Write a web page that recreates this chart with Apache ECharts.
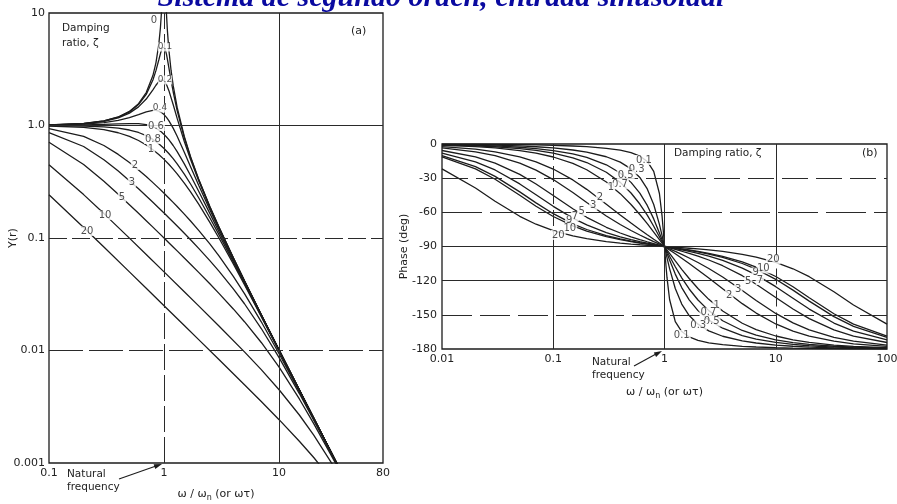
<!DOCTYPE html>
<html><head><meta charset="utf-8">
<script src="https://cdn.jsdelivr.net/npm/echarts/dist/echarts.min.js"></script>
<style>html,body{margin:0;padding:0;background:#fff}#c{width:897px;height:504px}</style>
</head><body><div id="c"></div>
<script>
// ---------- panel (a): amplitude ratio Y(r) vs w/wn ----------
const ampR_fine = [0.1,0.2,0.3,0.4,0.5,0.6,0.7,0.8,0.85,0.9,0.93,0.95,0.97,0.99,1.0,1.01,1.03,1.05,1.07,1.1,1.15,1.2,1.3,1.5,1.7,2,2.5,3,4,5,7,10,15,20,30,40];
const ampR_mid = [0.1,0.2,0.3,0.4,0.5,0.6,0.7,0.8,0.85,0.9,0.95,0.97,1.0,1.05,1.1,1.2,1.3,1.5,1.7,2,2.5,3,4,5,7,10,15,20,30,40];
const ampR_coarse = [0.1,0.2,0.3,0.4,0.5,0.6,0.7,0.8,0.9,1.0,1.1,1.2,1.3,1.5,1.7,2,2.5,3,4,5,7,10,15,20,30,40];
const ampR_sparse = [0.1,0.2,0.3,0.5,0.7,1,1.5,2,3,5,7,10,15,20,30,40];

const amp_z0 = [1.0101,1.0417,1.0989,1.1905,1.3333,1.5625,1.9608,2.7778,3.6036,5.2632,7.4019,10.256,16.92,50.25,null,49.75,16.42,9.756,6.901,4.762,3.101,2.273,1.449,0.8,0.5291,0.3333,0.1905,0.125,0.06667,0.04167,0.02083,0.0101,0.004464,0.002506,0.001112,0.000625];
const amp_z01 = [1.0099,1.0408,1.0965,1.185,1.3217,1.5357,1.891,2.538,3.073,3.821,4.35,4.682,4.931,5.025,5.0,4.926,4.655,4.279,3.869,3.288,2.525,1.995,1.356,0.7779,0.5207,0.3304,0.1896,0.12465,0.06657,0.04163,0.02082,0.0101,0.004464,0.002506,0.001112,0.000625];
const amp_z02 = [1.0093,1.0381,1.0895,1.1694,1.2883,1.463,1.7188,2.076,2.2786,2.4566,2.549,2.548,2.5,2.313,2.051,1.5357,1.157,0.7212,0.4979,0.3221,0.1871,0.12362,0.06629,0.04152,0.0208,0.01009,0.004462,0.002505,0.001112,0.000625];
const amp_z04 = [1.0068,1.0275,1.0626,1.1125,1.1765,1.25,1.3203,1.3618,1.3616,1.3429,1.3051,1.2849,1.25,1.1817,1.1053,0.947,0.8012,0.5771,0.4295,0.2941,0.178,0.11973,0.0652,0.0411,0.02069,0.010068,0.004458,0.002504,0.001112,0.000625];
const amp_z06 = [1.0028,1.0106,1.0218,1.0336,1.0412,1.0381,1.0176,0.9753,0.946,0.9119,0.874,0.858,0.8333,0.791,0.7482,0.6641,0.5862,0.4563,0.3596,0.2603,0.1654,0.11399,0.0635,0.04042,0.02052,0.010028,0.00445,0.002502,0.001111,0.000625];
const amp_z08 = [0.99716,0.98821,0.97197,0.94694,0.91192,0.86672,0.81258,0.75206,0.68848,0.625,0.5642,0.5077,0.4563,0.3696,0.3019,0.228,0.1515,0.10719,0.06132,0.03953,0.02029,0.009972,0.004439,0.002498,0.001111,0.000625];
const amp_z1 = [0.9901,0.9615,0.9174,0.8621,0.8,0.7353,0.6711,0.6098,0.5525,0.5,0.4525,0.4098,0.3717,0.3077,0.2571,0.2,0.1379,0.1,0.05882,0.03846,0.02,0.0099,0.004425,0.002494,0.00111,0.000624];
const amp_z2 = [0.93654,0.80023,0.664,0.55337,0.46816,0.4026,0.35136,0.31054,0.2774,0.25,0.227,0.20746,0.19064,0.16316,0.14169,0.11704,0.08854,0.06934,0.0456,0.03201,0.017996,0.009365,0.004312,0.002457,0.0011026,0.000622];
const amp_z3 = [0.86384,0.65072,0.4958,0.39327,0.32338,0.27349,0.23636,0.20775,0.18507,0.16667,0.15144,0.13863,0.12771,0.11006,0.0964,0.08085,0.06292,0.05077,0.03533,0.02603,0.01568,0.008638,0.004142,0.0024,0.0010907,0.000618];
const amp_z5 = [0.71065,0.45076,0.31898,0.24466,0.19779,0.16573,0.14248,0.12487,0.11109,0.1,0.09089,0.08328,0.07682,0.06644,0.05846,0.04945,0.03915,0.03221,0.02341,0.01803,0.011782,0.007106,0.003709,0.00224,0.001055,0.000607];
const amp_z10 = [0.44811,0.2431,0.16478,0.09972,0.07138,0.05,0.0333,0.02493,0.01652,0.009724,0.006757,0.004481,0.002671,0.00177,0.000925,0.000559];
const amp_z20 = [0.24268,0.12411,0.08309,0.04996,0.03571,0.025,0.016663,0.012491,0.008315,0.004964,0.00352,0.002427,0.001561,0.001119,0.000667,0.000442];

const ampXTicks = [0.1, 1, 10, 80];
const ampXTickLabels = ['0.1', '1', '10', '80'];
const ampYTicks = [0.001, 0.01, 0.1, 1, 10];
const ampYTickLabels = ['0.001', '0.01', '0.1', '1.0', '10'];

// curve labels of panel (a): text, r, Y
const ampLabelText = ['0','0.1','0.2','0.4','0.6','0.8','1','2','3','5','10','20'];
const ampLabelR = [0.818,1.019,1.019,0.922,0.851,0.80,0.77,0.559,0.526,0.431,0.307,0.214];
const ampLabelY = [8.67,4.99,2.54,1.43,0.99,0.759,0.618,0.446,0.315,0.2315,0.16,0.1154];

// ---------- panel (b): phase (deg) vs w/wn ----------
const phaseR = [0.01,0.02,0.03,0.05,0.07,0.1,0.15,0.2,0.3,0.4,0.5,0.6,0.7,0.8,0.9,0.95,0.98,1,1.0204,1.0526,1.1111,1.25,1.4286,1.6667,2,2.5,3.3333,5,6.6667,10,14.286,20,33.333,50,100];
const ph_z01 = [-0.11,-0.23,-0.34,-0.57,-0.81,-1.16,-1.76,-2.39,-3.77,-5.44,-7.6,-10.62,-15.35,-23.96,-43.45,-62.83,-78.58,-90,-101.42,-117.17,-136.55,-156.04,-164.65,-169.38,-172.4,-174.56,-176.23,-177.61,-178.24,-178.84,-179.19,-179.43,-179.66,-179.77,-179.89];
const ph_z03 = [-0.34,-0.69,-1.03,-1.72,-2.42,-3.47,-5.26,-7.13,-11.19,-15.95,-21.8,-29.36,-39.47,-53.13,-70.62,-80.29,-86.15,-90,-93.85,-99.71,-109.38,-126.87,-140.53,-150.64,-158.2,-164.05,-168.81,-172.88,-174.74,-176.53,-177.58,-178.28,-178.97,-179.31,-179.66];
const ph_z05 = [-0.57,-1.15,-1.72,-2.87,-4.02,-5.77,-8.72,-11.77,-18.24,-25.46,-33.69,-43.15,-53.92,-65.77,-78.08,-84.14,-87.69,-90,-92.31,-95.86,-101.92,-114.23,-126.08,-136.85,-146.31,-154.54,-161.76,-168.23,-171.28,-174.23,-175.98,-177.13,-178.28,-178.85,-179.43];
const ph_z07 = [-0.8,-1.6,-2.41,-4.01,-5.62,-8.05,-12.13,-16.26,-24.78,-33.69,-43.03,-52.7,-62.51,-72.18,-81.42,-85.81,-88.35,-90,-91.65,-94.19,-98.58,-107.82,-117.49,-127.3,-136.97,-146.31,-155.22,-163.74,-167.87,-171.95,-174.38,-175.99,-177.59,-178.4,-179.2];
const ph_z1 = [-1.15,-2.29,-3.44,-5.73,-8.01,-11.42,-17.06,-22.62,-33.4,-43.6,-53.13,-61.93,-69.98,-77.32,-83.97,-87.06,-88.84,-90,-91.16,-92.94,-96.03,-102.68,-110.02,-118.07,-126.87,-136.4,-146.6,-157.38,-162.94,-168.58,-171.99,-174.27,-176.56,-177.71,-178.85];
const ph_z2 = [-2.29,-4.58,-6.85,-11.34,-15.72,-22.0,-31.54,-39.81,-52.83,-62.3,-69.44,-75.07,-79.68,-83.58,-86.98,-88.53,-89.42,-90,-90.58,-91.47,-93.02,-96.42,-100.32,-104.93,-110.56,-117.7,-127.17,-140.19,-148.46,-158.0,-164.28,-168.66,-173.15,-175.42,-177.71];
const ph_z3 = [-3.43,-6.85,-10.21,-16.74,-22.88,-31.22,-42.64,-51.34,-63.18,-70.71,-75.96,-79.92,-83.08,-85.71,-87.98,-89.02,-89.61,-90,-90.39,-90.98,-92.02,-94.29,-96.92,-100.08,-104.04,-109.29,-116.82,-128.66,-137.36,-148.78,-157.12,-163.26,-169.79,-173.15,-176.57];
const ph_z5 = [-5.71,-11.31,-16.72,-26.62,-35.13,-45.29,-56.91,-64.36,-73.13,-78.14,-81.47,-83.91,-85.83,-87.42,-88.79,-89.41,-89.77,-90,-90.23,-90.59,-91.21,-92.58,-94.17,-96.09,-98.53,-101.86,-106.87,-115.64,-123.09,-134.71,-144.87,-153.38,-163.28,-168.69,-174.29];
const ph_z7 = [-7.97,-15.65,-22.8,-35.06,-44.56,-54.73,-65.04,-71.08,-77.78,-81.47,-83.88,-85.64,-87.02,-88.16,-89.14,-89.58,-89.83,-90,-90.17,-90.42,-90.86,-91.84,-92.98,-94.36,-96.12,-98.53,-102.22,-108.92,-114.96,-125.27,-135.44,-144.94,-157.2,-164.35,-172.03];
const ph_z9 = [-10.2,-19.8,-28.39,-42.06,-51.7,-61.19,-70.1,-75.07,-80.43,-83.35,-85.24,-86.61,-87.68,-88.57,-89.33,-89.67,-89.87,-90,-90.13,-90.33,-90.67,-91.43,-92.32,-93.39,-94.76,-96.65,-99.57,-104.93,-109.9,-118.81,-128.3,-137.94,-151.61,-160.2,-169.8];
const ph_z10 = [-11.31,-21.81,-30.99,-45.07,-54.6,-63.66,-71.95,-76.5,-81.38,-84.01,-85.71,-86.95,-87.91,-88.71,-89.4,-89.71,-89.88,-90,-90.12,-90.29,-90.6,-91.29,-92.09,-93.05,-94.29,-95.99,-98.62,-103.5,-108.05,-116.34,-125.4,-134.93,-149.01,-158.19,-168.69];
const ph_z20 = [-21.8,-38.67,-50.22,-63.49,-70.44,-76.1,-80.75,-83.16,-85.66,-87.0,-87.85,-88.47,-88.96,-89.36,-89.7,-89.85,-89.94,-90,-90.06,-90.15,-90.3,-90.64,-91.04,-91.53,-92.15,-93.0,-94.34,-96.84,-99.25,-103.9,-109.56,-116.51,-129.78,-141.33,-158.2];

const phXTicks = [0.01, 0.1, 1, 10, 100];
const phXTickLabels = ['0.01', '0.1', '1', '10', '100'];

const phLabelText = ['0.1','0.3','0.5','0.7','1','2','3','5','7','9','10','20','20','10','9','7','5','3','2','1','0.7','0.5','0.3','0.1'];
const phLabelR = [0.654,0.562,0.448,0.398,0.33,0.263,0.229,0.18,0.157,0.139,0.141,0.111,9.5,7.73,6.6,7.2,5.66,4.6,3.82,2.94,2.48,2.65,2.01,1.43];
const phLabelY = [-14.05,-22.2,-27.2,-35.4,-38.4,-46.8,-53.6,-58.8,-63.2,-66.7,-74,-79.9,-101.3,-109.2,-112.7,-119.4,-120.9,-127.6,-132.6,-141.4,-148.1,-156,-158.9,-167.7];

// ---------- build ----------
const FONT = 'DejaVu Sans';
const INK = '#1c1c1c';
const TXT = '#222';
function pairs(xs, ys) { return xs.map((x, i) => [x, ys[i]]); }
function pick(v, ticks, labels) {
  const lv = Math.log10(v);
  let best = -1, d = 1e9;
  ticks.forEach((t, i) => { const dd = Math.abs(Math.log10(t) - lv); if (dd < d) { d = dd; best = i; } });
  return d < 0.02 ? labels[best] : '';
}

const ampCurves = [
  [ampR_fine, amp_z0], [ampR_fine, amp_z01], [ampR_mid, amp_z02], [ampR_mid, amp_z04], [ampR_mid, amp_z06],
  [ampR_coarse, amp_z08], [ampR_coarse, amp_z1], [ampR_coarse, amp_z2], [ampR_coarse, amp_z3], [ampR_coarse, amp_z5],
  [ampR_sparse, amp_z10], [ampR_sparse, amp_z20]
];
const phCurves = [ph_z01, ph_z03, ph_z05, ph_z07, ph_z1, ph_z2, ph_z3, ph_z5, ph_z7, ph_z9, ph_z10, ph_z20];

const gridLine = (t) => ({ color: '#2a2a2a', width: 1, type: t });
const series = [];
ampCurves.forEach((c, i) => {
  const s = {
    type: 'line', xAxisIndex: 0, yAxisIndex: 0, data: pairs(c[0], c[1]),
    symbol: 'none', clip: true, animation: false, connectNulls: false,
    lineStyle: { color: INK, width: 1.3 }, z: 3
  };
  if (i === 0) {
    s.markLine = {
      silent: true, symbol: ['none', 'none'], label: { show: false }, animation: false,
      data: [
        { yAxis: 1, lineStyle: gridLine('solid') },
        { yAxis: 0.1, lineStyle: gridLine([18, 5]) },
        { yAxis: 0.01, lineStyle: gridLine([34, 6]) },
        { xAxis: 1, lineStyle: gridLine([26, 5]) },
        { xAxis: 10, lineStyle: gridLine('solid') }
      ]
    };
  }
  series.push(s);
});
phCurves.forEach((c, i) => {
  const s = {
    type: 'line', xAxisIndex: 1, yAxisIndex: 1, data: pairs(phaseR, c),
    symbol: 'none', clip: true, animation: false, smooth: false,
    lineStyle: { color: INK, width: 1.3 }, z: 3
  };
  if (i === 0) {
    s.markLine = {
      silent: true, symbol: ['none', 'none'], label: { show: false }, animation: false,
      data: [
        { yAxis: -30, lineStyle: gridLine([26, 8]) },
        { yAxis: -60, lineStyle: gridLine([40, 8]) },
        { yAxis: -90, lineStyle: gridLine('solid') },
        { yAxis: -120, lineStyle: gridLine('solid') },
        { yAxis: -150, lineStyle: gridLine([30, 8]) },
        [{ coord: [0.1, 0], lineStyle: gridLine([16, 6]) }, { coord: [0.1, -90] }],
        [{ coord: [0.1, -90], lineStyle: gridLine('solid') }, { coord: [0.1, -180] }],
        { xAxis: 1, lineStyle: gridLine('solid') },
        [{ coord: [10, 0], lineStyle: gridLine('solid') }, { coord: [10, -90] }],
        [{ coord: [10, -90], lineStyle: gridLine([16, 6]) }, { coord: [10, -180] }]
      ]
    };
  }
  series.push(s);
});

const labelStyle = (fs) => ({
  show: true, position: 'inside', color: TXT, fontFamily: FONT, fontSize: fs,
  backgroundColor: '#fff', padding: [0, 1], formatter: (p) => p.name
});
series.push({
  type: 'scatter', xAxisIndex: 0, yAxisIndex: 0, symbol: 'circle', symbolSize: 1, silent: true,
  itemStyle: { color: 'rgba(0,0,0,0)' }, z: 5, animation: false,
  label: labelStyle(10),
  data: ampLabelText.map((t, i) => ({ name: t, value: [ampLabelR[i], ampLabelY[i]],
    label: (i >= 1 && i <= 3) ? { fontSize: 9, padding: 0 } : undefined }))
});
series.push({
  type: 'scatter', xAxisIndex: 1, yAxisIndex: 1, symbol: 'circle', symbolSize: 1, silent: true,
  itemStyle: { color: 'rgba(0,0,0,0)' }, z: 5, animation: false,
  label: labelStyle(10),
  data: phLabelText.map((t, i) => ({ name: t, value: [phLabelR[i], phLabelY[i]] }))
});

const axisText = { color: TXT, fontFamily: FONT, fontSize: 11 };
const xName = 'ω / ω{s|n} (or ωτ)';
const nameStyle = { color: TXT, fontFamily: FONT, fontSize: 11, rich: { s: { fontSize: 8, fontFamily: FONT, color: TXT, padding: [7, 0, 0, 0] } } };

const option = {
  backgroundColor: '#fff',
  animation: false,
  grid: [
    { left: 49, top: 13, width: 334, height: 450, show: true, borderColor: INK, borderWidth: 1.3, backgroundColor: 'transparent', outerBoundsMode: 'none' },
    { left: 442, top: 144, width: 445, height: 205, show: true, borderColor: INK, borderWidth: 1.3, backgroundColor: 'transparent', outerBoundsMode: 'none' }
  ],
  xAxis: [
    { gridIndex: 0, type: 'log', logBase: 10, min: 0.1, max: 80,
      axisLine: { show: false }, axisTick: { show: false }, splitLine: { show: false }, minorTick: { show: false },
      axisLabel: Object.assign({ margin: 5, showMinLabel: true, showMaxLabel: true, formatter: (v) => pick(v, ampXTicks, ampXTickLabels) }, axisText),
      name: xName, nameLocation: 'middle', nameGap: 24, nameMoveOverlap: false, nameTextStyle: nameStyle },
    { gridIndex: 1, type: 'log', logBase: 10, min: 0.01, max: 100,
      axisLine: { show: false }, axisTick: { show: false }, splitLine: { show: false }, minorTick: { show: false },
      axisLabel: Object.assign({ margin: 5, formatter: (v) => pick(v, phXTicks, phXTickLabels) }, axisText),
      name: xName, nameLocation: 'middle', nameGap: 36, nameMoveOverlap: false, nameTextStyle: nameStyle }
  ],
  yAxis: [
    { gridIndex: 0, type: 'log', logBase: 10, min: 0.001, max: 10,
      axisLine: { show: false }, axisTick: { show: false }, splitLine: { show: false }, minorTick: { show: false },
      axisLabel: Object.assign({ margin: 4, formatter: (v) => pick(v, ampYTicks, ampYTickLabels) }, axisText),
      name: 'Y(r)', nameLocation: 'middle', nameGap: 30, nameMoveOverlap: false, nameTextStyle: { color: TXT, fontFamily: FONT, fontSize: 11 } },
    { gridIndex: 1, type: 'value', min: -180, max: 0, interval: 30,
      axisLine: { show: false }, axisTick: { show: false }, splitLine: { show: false },
      axisLabel: Object.assign({ margin: 5 }, axisText),
      name: 'Phase (deg)', nameLocation: 'middle', nameGap: 32, nameMoveOverlap: false, nameTextStyle: { color: TXT, fontFamily: FONT, fontSize: 11 } }
  ],
  graphic: [
    { type: 'text', x: 441, y: 13, z: 100, style: { text: 'Sistema de segundo orden, entrada sinusoidal',
      fontFamily: 'Liberation Serif', fontSize: 30, fontWeight: 'bold', fontStyle: 'italic', fill: '#0a0aa0', align: 'center', verticalAlign: 'bottom' } },
    { type: 'text', x: 62, y: 21, style: { text: 'Damping\nratio, ζ', fontFamily: FONT, fontSize: 10.5, lineHeight: 15, fill: TXT } },
    { type: 'text', x: 351, y: 26, style: { text: '(a)', fontFamily: FONT, fontSize: 11, fill: TXT } },
    { type: 'text', x: 674, y: 148, style: { text: 'Damping ratio, ζ', fontFamily: FONT, fontSize: 10.5, fill: TXT } },
    { type: 'text', x: 862, y: 148, style: { text: '(b)', fontFamily: FONT, fontSize: 11, fill: TXT } },
    { type: 'text', x: 67, y: 468, style: { text: 'Natural\nfrequency', fontFamily: FONT, fontSize: 10.5, lineHeight: 13, fill: TXT } },
    { type: 'line', shape: { x1: 119, y1: 479, x2: 156, y2: 466 }, style: { stroke: INK, lineWidth: 1.1 } },
    { type: 'polygon', shape: { points: [[162, 464], [155.3, 469], [153.6, 464.3]] }, style: { fill: INK } },
    { type: 'text', x: 592, y: 356, style: { text: 'Natural\nfrequency', fontFamily: FONT, fontSize: 10.5, lineHeight: 13, fill: TXT } },
    { type: 'line', shape: { x1: 634, y1: 366, x2: 656, y2: 354 }, style: { stroke: INK, lineWidth: 1.1 } },
    { type: 'polygon', shape: { points: [[662, 351], [656.1, 357], [653.8, 352.6]] }, style: { fill: INK } }
  ],
  series: series
};

const chart = echarts.init(document.getElementById('c'));
chart.setOption(option);
</script>
</body></html>
